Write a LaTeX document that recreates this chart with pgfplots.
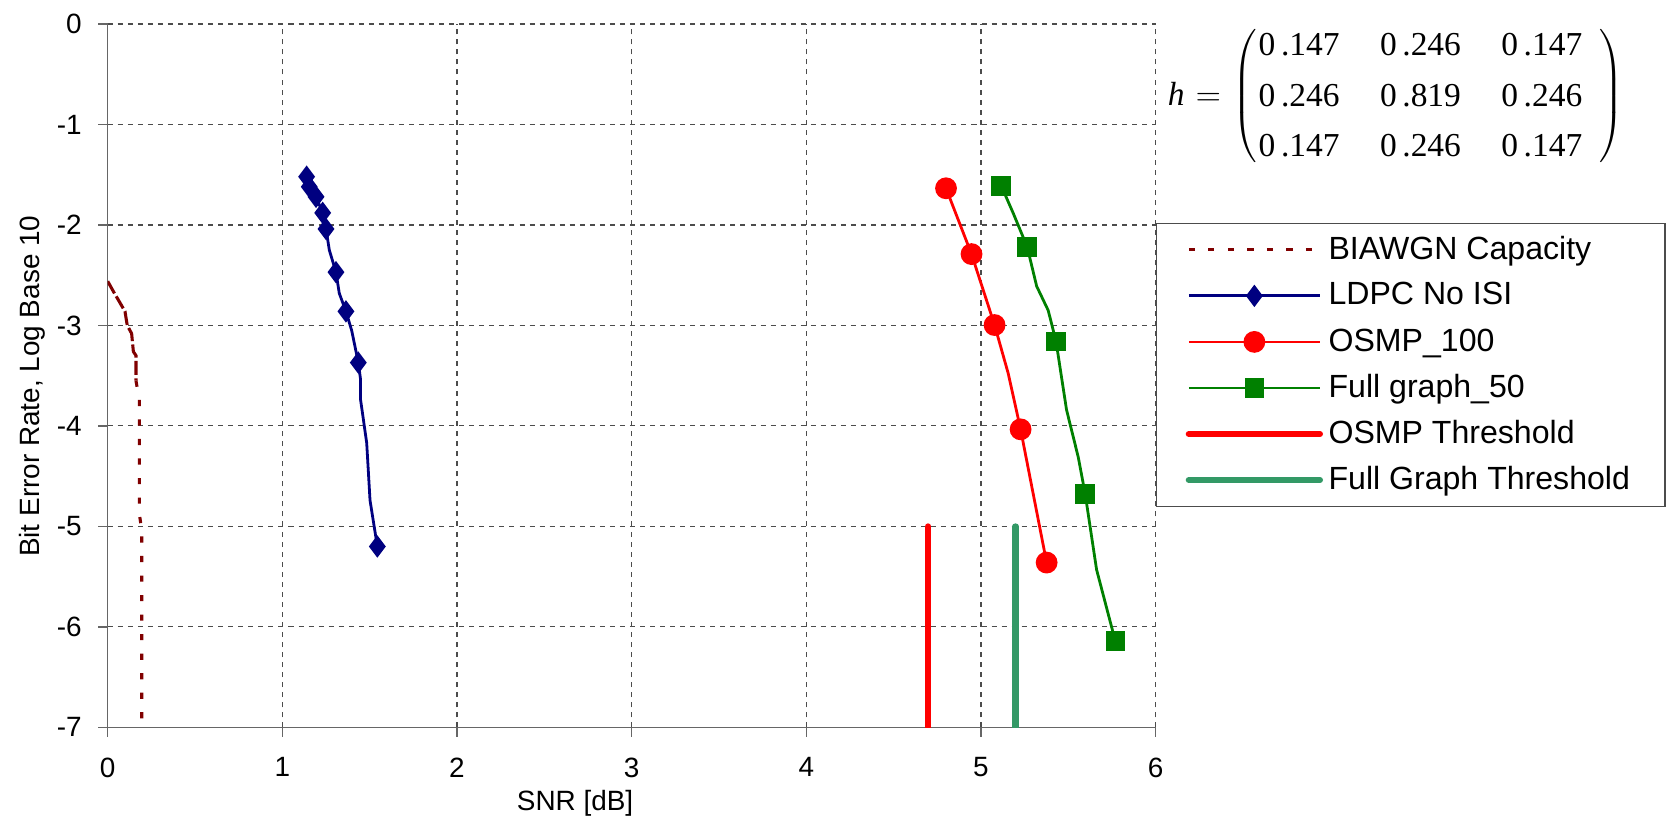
\documentclass[border=0pt]{standalone}
\usepackage{pgfplots}
\pgfplotsset{compat=1.18}
\usepackage{fontspec}
\setmainfont{Liberation Sans}
\newfontfamily\serif{Liberation Serif}
\definecolor{darkred}{RGB}{128,0,0}
\definecolor{navyc}{RGB}{0,0,128}
\definecolor{redc}{RGB}{255,0,0}
\definecolor{greenc}{RGB}{0,128,0}
\definecolor{seag}{RGB}{51,153,102}
\begin{document}
\begin{tikzpicture}
\begin{axis}[
  scale only axis, width=375.6pt, height=252.1pt,
  at={(0pt,0pt)}, anchor=south west,
  xmin=0, xmax=6, ymin=-7, ymax=0,
  xtick={0,1,2,3,4,5,6}, ytick={-7,-6,-5,-4,-3,-2,-1,0},
  xticklabels={0,1,2,3,4,5,6},
  yticklabels={-7,-6,-5,-4,-3,-2,-1,0},
  axis x line*=bottom, axis y line*=left,
  axis line style={draw=black!60, line width=0.5pt, -},
  tick align=outside, major tick length=3.3pt,
  tick style={draw=black!60, line width=0.5pt},
  grid=major,
  grid style={draw=black!70, line width=0.4pt, dash pattern=on 1.8pt off 1.8pt},
  ticklabel style={font=\fontsize{10}{12}\selectfont},
  xticklabel style={yshift=-4pt},
  yticklabel style={xshift=-2.5pt},
  xlabel={SNR [dB]}, ylabel={Bit Error Rate, Log Base 10},
  label style={font=\fontsize{10}{12}\selectfont},
  xlabel style={at={(axis description cs:0.446,-0.1076)}, anchor=center},
  ylabel style={at={(axis description cs:-0.072,0.485)}, anchor=center},
  legend cell align=left,
  legend image code/.code={\draw[#1, mark indices={2}] plot coordinates {(0pt,0pt) (23.5pt,0pt) (47pt,0pt)};},
  legend style={at={(1,0.7176)}, anchor=north west, draw=black!70, line width=0.6pt, fill=white,
    inner xsep=10.5pt, inner ysep=1.2pt, row sep=0pt,
    font=\fontsize{11.5}{13}\selectfont,
    nodes={inner sep=2pt, minimum height=16.5pt},
    /tikz/every odd column/.append style={text width=200pt, inner xsep=0.5pt}},
]
% BIAWGN capacity (short segments near the top look nearly solid)
\addplot[darkred, line width=1.1pt, dash pattern=on 5pt off 1.2pt, forget plot] coordinates {
 (0.00,-2.56) (0.032,-2.66) (0.099,-2.86) (0.112,-3.00) (0.137,-3.08) (0.147,-3.26)
 (0.162,-3.30) (0.162,-3.55)};
\addplot[darkred, line width=1.1pt, dash pattern=on 2.2pt off 4.8pt] coordinates {
 (0.162,-3.55) (0.175,-3.68) (0.181,-3.72) (0.181,-4.87) (0.195,-5.04) (0.195,-7.00)};
\addlegendentry{BIAWGN Capacity}
% LDPC No ISI
\addplot[navyc, line width=1pt, mark=diamond*, mark size=3.2pt, mark options={solid, fill=navyc},
  mark indices={1,2,3,4,5,7,9,11,16}] coordinates {
 (1.139,-1.52) (1.154,-1.62) (1.193,-1.72) (1.231,-1.88) (1.250,-2.04) (1.269,-2.25)
 (1.307,-2.47) (1.326,-2.68) (1.364,-2.86) (1.397,-3.05) (1.435,-3.37) (1.448,-3.54)
 (1.448,-3.74) (1.483,-4.17) (1.502,-4.74) (1.544,-5.20)};
\addlegendentry{LDPC No ISI}
% OSMP_100
\addplot[redc, line width=1pt, mark=*, mark size=3.4pt, mark options={solid, fill=redc},
  mark indices={1,2,3,5,6}] coordinates {
 (4.800,-1.635) (4.946,-2.29) (5.078,-2.996) (5.156,-3.477) (5.227,-4.034) (5.376,-5.36)};
\addlegendentry{OSMP\_100}
% Full graph_50
\addplot[greenc, line width=1pt, mark=square*, mark size=3pt, mark options={solid, fill=greenc},
  mark indices={1,3,6,9,11}] coordinates {
 (5.116,-1.61) (5.185,-1.884) (5.265,-2.22) (5.319,-2.61) (5.385,-2.85) (5.430,-3.16)
 (5.490,-3.84) (5.557,-4.31) (5.597,-4.68) (5.662,-5.43) (5.769,-6.14)};
\addlegendentry{Full graph\_50}
% Thresholds
\addplot[redc, line width=2.2pt, line cap=round] coordinates {(4.698,-5) (4.698,-7)};
\addlegendentry{OSMP Threshold}
\addplot[seag, line width=2.2pt, line cap=round] coordinates {(5.198,-5) (5.198,-7)};
\addlegendentry{Full Graph Threshold}
\end{axis}
% channel matrix
\node[anchor=base, inner sep=0pt] at (383.0pt,223.0pt) {\serif\fontsize{12}{14.4}\selectfont\itshape h};
\node[anchor=base, inner sep=0pt] at (394.5pt,223.0pt) {\fontsize{12}{14.4}\selectfont$=$};
\node[anchor=west, inner sep=0pt] at (403.0pt,226.0pt) {\serif\fontsize{12}{14.4}\selectfont
  $\left(\vphantom{\rule[-21.5pt]{0pt}{48.5pt}}\smash{\renewcommand{\arraystretch}{1.25}\begin{tabular}{@{\hspace{0.6pt}}l@{\hspace{14.5pt}}l@{\hspace{14.5pt}}l@{\hspace{6pt}}}
  0\,.147 & 0\,.246 & 0\,.147\\
  0\,.246 & 0\,.819 & 0\,.246\\
  0\,.147 & 0\,.246 & 0\,.147
  \end{tabular}}\right)$};
\pgfresetboundingbox
\path[use as bounding box] (-38.6pt,-34.3pt) rectangle (561.4pt,260.7pt);
\end{tikzpicture}
\end{document}
